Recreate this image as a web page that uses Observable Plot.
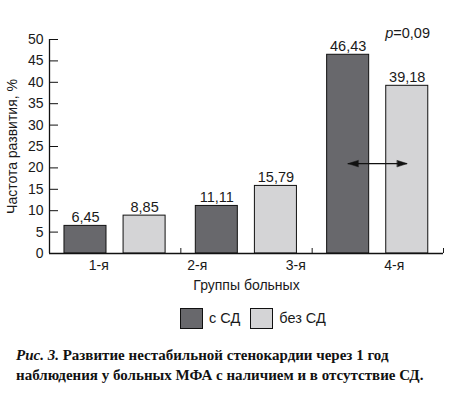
<!DOCTYPE html>
<html><head><meta charset="utf-8">
<script src="https://cdn.jsdelivr.net/npm/d3@7"></script>
<script src="https://cdn.jsdelivr.net/npm/@observablehq/plot@0.6"></script>
<style>
body{margin:0;background:#fff;width:462px;height:396px;overflow:hidden;font-family:"Liberation Sans",Arial,sans-serif;color:#1a1a1a}
#chart svg{display:block}
.legend{display:flex;align-items:center;margin-left:180px;margin-top:15px;height:22px;font-size:14.5px}
.legend .sw{width:21px;height:19px;border:1px solid #111;margin-right:6px}
.legend .item{display:flex;align-items:center;margin-right:10px}
.caption{margin:16px 0 0 16px;font-family:"Liberation Serif","Times New Roman",serif;font-weight:bold;font-size:15px;line-height:20px;color:#111}
</style></head><body>
<div id="chart"></div>
<div class="legend" id="legend"></div>
<div class="caption"><i>Рис. 3.</i> Развитие нестабильной стенокардии через 1 год<br>наблюдения у больных МФА с наличием и в отсутствие СД.</div>
<script>
const groups = ["1-я", "2-я", "3-я", "4-я"];
const series = ["с СД", "без СД"];
const colors = ["#68686c", "#d4d4d6"];
const barCluster = [0, 0, 1, 1, 2, 2];
const barSeries = ["с СД", "без СД", "с СД", "без СД", "с СД", "без СД"];
const barValues = [6.45, 8.85, 11.11, 15.79, 46.43, 39.18];
const yTicks = [0, 5, 10, 15, 20, 25, 30, 35, 40, 45, 50];
const yLabel = "Частота развития, %";
const xLabel = "Группы больных";
const pText = ["p", "=0,09"];
const pY = [51.4];
const arrowY = [21];

const nClusters = 3;
const pad = 0.114, bw = 0.32, gap = 0.13;
const fmt = v => v.toFixed(2).replace(".", ",");
const bars = barValues.map((v, i) => {
  const s = series.indexOf(barSeries[i]);
  const x1 = barCluster[i] + pad + s * (bw + gap);
  return {x1, x2: x1 + bw, xc: x1 + bw / 2, value: v, series: barSeries[i], label: fmt(v)};
});
const last = bars.slice(-2);
const arrowSeg = [{x1: last[0].xc, x2: last[1].xc, y: arrowY[0]}];
const heads = [
  {x: last[0].xc, y: arrowY[0], rot: -90},
  {x: last[1].xc, y: arrowY[0], rot: 90}
];
const headShape = {
  draw(context, l) {
    context.moveTo(-3.2, 0);
    context.lineTo(0, -l);
    context.lineTo(3.2, 0);
    context.closePath();
  }
};
const groupPos = groups.map((g, i) => (i + 0.5) * nClusters / groups.length);

const chart = Plot.plot({
  width: 462, height: 292,
  marginLeft: 49, marginRight: 19, marginTop: 39, marginBottom: 39,
  x: {type: "linear", domain: [0, nClusters]},
  y: {domain: [0, 50]},
  color: {domain: series, range: colors},
  style: {fontFamily: "Liberation Sans, Arial, sans-serif", fontSize: "14px", color: "#1a1a1a", background: "white", overflow: "visible"},
  marks: [
    Plot.rectY(bars, {x1: "x1", x2: "x2", y1: 0, y2: "value", fill: "series", stroke: "#111", strokeWidth: 1}),
    Plot.text(bars, {x: "xc", y: "value", text: "label", lineAnchor: "bottom", dy: -4, fontSize: 14.5}),
    Plot.ruleX([0], {stroke: "#111", strokeWidth: 1.3}),
    Plot.ruleY([0], {stroke: "#111", strokeWidth: 1.3}),
    Plot.axisY({ticks: yTicks, tickSize: 0, tickPadding: 6, label: null}),
    Plot.axisY({ticks: yTicks, tickSize: -9, tickFormat: () => "", label: null, stroke: "#111"}),
    Plot.axisX({ticks: [1, 2, 3], tickSize: -5, tickFormat: () => "", label: null}),
    Plot.axisX({ticks: groupPos, tickSize: 0, tickPadding: 7, label: null,
      tickFormat: d => groups[Math.round(d * groups.length / nClusters - 0.5)]}),
    Plot.text([xLabel], {frameAnchor: "bottom", lineAnchor: "top", dy: 27, text: d => d}),
    Plot.text([yLabel], {frameAnchor: "left", textAnchor: "middle", rotate: -90, dx: -37, text: d => d}),
    Plot.ruleY(arrowSeg, {x1: "x1", x2: "x2", y: "y", stroke: "#111", strokeWidth: 1.2}),
    Plot.vector(heads, {x: "x", y: "y", rotate: "rot", length: 10, anchor: "end", shape: headShape, fill: "#111", stroke: "#111", strokeWidth: 0.5}),
    Plot.text(pY, {x: last[1].xc, y: d => d, text: () => pText[0], textAnchor: "end", dx: -14, fontStyle: "italic", fontSize: 14.5}),
    Plot.text(pY, {x: last[1].xc, y: d => d, text: () => pText[1], textAnchor: "start", dx: -14, fontSize: 14.5})
  ]
});
document.getElementById("chart").appendChild(chart);

const lg = document.getElementById("legend");
series.forEach((s, i) => {
  const it = document.createElement("div"); it.className = "item";
  const sw = document.createElement("div"); sw.className = "sw"; sw.style.background = colors[i];
  const t = document.createElement("span"); t.textContent = s;
  it.appendChild(sw); it.appendChild(t); lg.appendChild(it);
});
</script>
</body></html>
